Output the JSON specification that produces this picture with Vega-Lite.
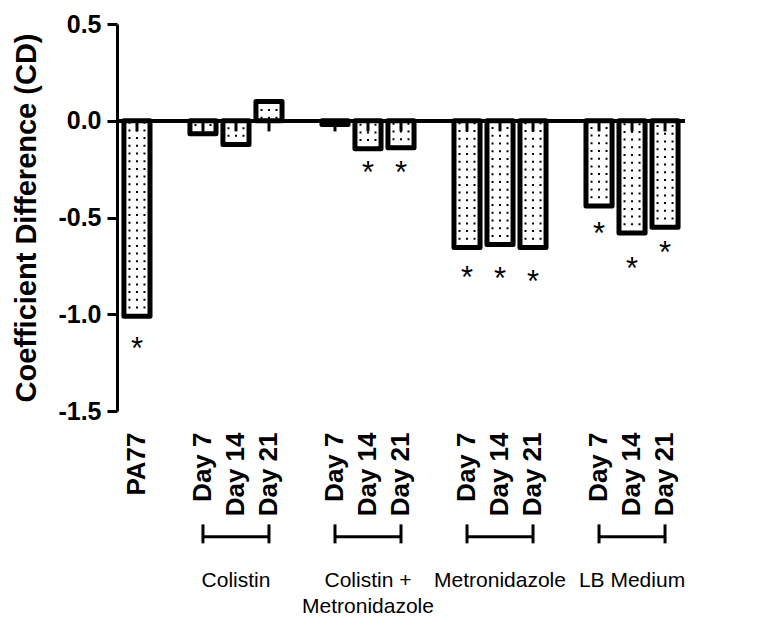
{
  "$schema": "https://vega.github.io/schema/vega-lite/v6.json",
  "width": 568,
  "height": 387,
  "autosize": "none",
  "padding": {"left": 117, "top": 24, "right": 86, "bottom": 206},
  "background": "white",
  "config": {"view": {"stroke": null}, "font": "Liberation Sans"},
  "datasets": {
    "bars": [
      {"bar": "PA77", "value": -1.01, "star": -1.14},
      {"bar": "Colistin|Day 7", "value": -0.067, "star": null},
      {"bar": "Colistin|Day 14", "value": -0.123, "star": null},
      {"bar": "Colistin|Day 21", "value": 0.1, "star": null},
      {"bar": "Colistin + Metronidazole|Day 7", "value": -0.02, "star": null},
      {"bar": "Colistin + Metronidazole|Day 14", "value": -0.145, "star": -0.231},
      {"bar": "Colistin + Metronidazole|Day 21", "value": -0.14, "star": -0.231},
      {"bar": "Metronidazole|Day 7", "value": -0.655, "star": -0.77},
      {"bar": "Metronidazole|Day 14", "value": -0.64, "star": -0.774},
      {"bar": "Metronidazole|Day 21", "value": -0.655, "star": -0.79},
      {"bar": "LB Medium|Day 7", "value": -0.44, "star": -0.543},
      {"bar": "LB Medium|Day 14", "value": -0.58, "star": -0.723},
      {"bar": "LB Medium|Day 21", "value": -0.55, "star": -0.642}
    ],
    "groups": [
      {"label": "Colistin", "first": "Colistin|Day 7", "mid": "Colistin|Day 14", "last": "Colistin|Day 21"},
      {"label": "Colistin +\nMetronidazole", "first": "Colistin + Metronidazole|Day 7", "mid": "Colistin + Metronidazole|Day 14", "last": "Colistin + Metronidazole|Day 21"},
      {"label": "Metronidazole", "first": "Metronidazole|Day 7", "mid": "Metronidazole|Day 14", "last": "Metronidazole|Day 21"},
      {"label": "LB Medium", "first": "LB Medium|Day 7", "mid": "LB Medium|Day 14", "last": "LB Medium|Day 21"}
    ]
  },
  "data": {"name": "bars"},
  "layer": [
    {
      "mark": {"type": "bar", "fill": "white", "stroke": "black", "strokeWidth": 5, "strokeJoin": "round"},
      "encoding": {
        "x": {
          "field": "bar", "type": "nominal", "title": null,
          "scale": {
            "domain": ["PA77", "gap1", "Colistin|Day 7", "Colistin|Day 14", "Colistin|Day 21", "gap2", "Colistin + Metronidazole|Day 7", "Colistin + Metronidazole|Day 14", "Colistin + Metronidazole|Day 21", "gap3", "Metronidazole|Day 7", "Metronidazole|Day 14", "Metronidazole|Day 21", "gap4", "LB Medium|Day 7", "LB Medium|Day 14", "LB Medium|Day 21"],
            "paddingInner": 0.21, "paddingOuter": 0.21
          },
          "axis": {
            "labelAngle": -90, "labelAlign": "right", "labelBaseline": "middle",
            "labelFontSize": 26, "labelFontWeight": "bold", "labelColor": "black",
            "labelPadding": 21, "ticks": false, "tickSize": 0, "domain": false,
            "labelOverlap": false, "labelBound": false,
            "labelExpr": "indexof(datum.value, '|') >= 0 ? split(datum.value, '|')[1] : (indexof(datum.value, 'gap') == 0 ? '' : datum.value)"
          }
        },
        "y": {
          "field": "value", "type": "quantitative",
          "scale": {"domain": [-1.5, 0.5], "nice": false, "zero": false},
          "axis": {
            "values": [-1.5, -1, -0.5, 0, 0.5],
            "labelExpr": "datum.value < 0 ? '-' + format(-datum.value, '.1f') : format(datum.value, '.1f')",
            "labelFontWeight": "bold", "labelFontSize": 25, "labelColor": "black", "labelPadding": 6,
            "domainColor": "black", "domainWidth": 3, "tickColor": "black", "tickWidth": 3, "tickSize": 10,
            "grid": false,
            "title": "Coefficient Difference (CD)", "titleFontSize": 29, "titleFontWeight": "bold",
            "titleColor": "black", "titlePadding": 16
          }
        },
        "y2": {"datum": 0}
      }
    },
    {
      "mark": {"type": "rule", "color": "black", "strokeWidth": 2, "strokeDash": [2, 5.7], "xOffset": -7.5},
      "encoding": {"x": {"field": "bar", "type": "nominal", "title": null}, "y": {"field": "value", "type": "quantitative"}, "y2": {"datum": 0}}
    },
    {
      "mark": {"type": "rule", "color": "black", "strokeWidth": 2, "strokeDash": [2, 5.7], "xOffset": 0},
      "encoding": {"x": {"field": "bar", "type": "nominal", "title": null}, "y": {"field": "value", "type": "quantitative"}, "y2": {"datum": 0}}
    },
    {
      "mark": {"type": "rule", "color": "black", "strokeWidth": 2, "strokeDash": [2, 5.7], "xOffset": 7.5},
      "encoding": {"x": {"field": "bar", "type": "nominal", "title": null}, "y": {"field": "value", "type": "quantitative"}, "y2": {"datum": 0}}
    },
    {
      "mark": {"type": "rule", "color": "black", "strokeWidth": 3},
      "encoding": {"x": {"field": "bar", "type": "nominal", "title": null}, "y": {"datum": 0}, "y2": {"datum": -0.055}}
    },
    {
      "mark": {"type": "rule", "color": "black", "strokeWidth": 3},
      "encoding": {"y": {"datum": 0}}
    },
    {
      "transform": [{"filter": "datum.star != null"}],
      "mark": {"type": "text", "text": "*", "fontSize": 31, "color": "black", "baseline": "alphabetic", "dy": 18},
      "encoding": {"x": {"field": "bar", "type": "nominal", "title": null}, "y": {"field": "star", "type": "quantitative"}}
    },
    {
      "data": {"name": "groups"},
      "mark": {"type": "rule", "color": "black", "strokeWidth": 3},
      "encoding": {"x": {"field": "first", "type": "nominal", "title": null}, "x2": {"field": "last"}, "y": {"datum": -2.15}}
    },
    {
      "data": {"name": "groups"},
      "mark": {"type": "rule", "color": "black", "strokeWidth": 3},
      "encoding": {"x": {"field": "first", "type": "nominal", "title": null}, "y": {"datum": -2.086}, "y2": {"datum": -2.184}}
    },
    {
      "data": {"name": "groups"},
      "mark": {"type": "rule", "color": "black", "strokeWidth": 3},
      "encoding": {"x": {"field": "last", "type": "nominal", "title": null}, "y": {"datum": -2.086}, "y2": {"datum": -2.184}}
    },
    {
      "data": {"name": "groups"},
      "mark": {"type": "text", "fontSize": 21, "color": "black", "align": "center", "baseline": "alphabetic", "lineBreak": "\n", "lineHeight": 26},
      "encoding": {"x": {"field": "mid", "type": "nominal", "title": null}, "y": {"datum": -2.41}, "text": {"field": "label"}}
    }
  ]
}
